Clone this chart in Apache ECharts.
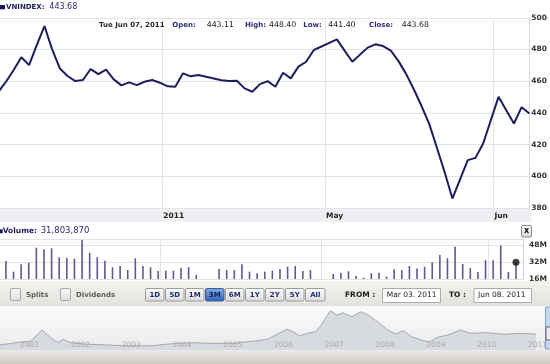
<!DOCTYPE html>
<html><head><meta charset="utf-8">
<script src="https://cdn.jsdelivr.net/npm/echarts@6/dist/echarts.min.js"></script>
<style>html,body{margin:0;padding:0;background:#fff}#c{width:550px;height:364px}</style>
</head><body><div id="c"></div>
<script>
// trading days shown (Mar 03 2011 .. Jun 08 2011)
const dates = [
 'Mar 03','Mar 04','Mar 07','Mar 08','Mar 09','Mar 10','Mar 11','Mar 14','Mar 15','Mar 16','Mar 17','Mar 18','Mar 21','Mar 22','Mar 23','Mar 24','Mar 25','Mar 28','Mar 29','Mar 30','Mar 31',
 'Apr 01','Apr 04','Apr 05','Apr 06','Apr 07','Apr 08','Apr 11','Apr 12','Apr 13','Apr 14','Apr 15','Apr 18','Apr 19','Apr 20','Apr 21','Apr 22','Apr 25','Apr 26','Apr 27','Apr 28','Apr 29',
 'May 02','May 03','May 04','May 05','May 06','May 09','May 10','May 11','May 12','May 13','May 16','May 17','May 18','May 19','May 20','May 23','May 24','May 25','May 26','May 27','May 30','May 31',
 'Jun 01','Jun 02','Jun 03','Jun 06','Jun 07','Jun 08'
];
// VNINDEX close
const closeValues = [
 453.2,459.7,467.1,475.1,470.2,482.8,494.8,480.1,468.1,463.3,460.1,460.8,467.7,464.5,467.3,461.2,457.4,459.3,457.6,459.7,460.8,
 459.1,456.8,456.5,465.0,463.1,463.9,462.8,461.8,460.6,460.1,460.3,
 455.5,453.4,458.2,460.1,456.5,465.4,461.8,469.2,472.3,479.7,
 null,null,486.4,479.3,472.3,476.8,481.2,483.3,482.2,479.3,
 472.7,464.5,454.8,444.4,433.0,417.9,402.7,386.1,398.2,410.3,
 411.7,420.8,435.5,450.2,441.8,433.4,443.68,439.7
];
// volume, millions
const volumeM = [
 null,
 32.9,22.9,29.8,31.4,45.5,44.0,44.9,36.4,36.0,35.1,
 52.7,40.8,36.4,33.2,27.0,28.2,24.5,35.5,28.2,27.0,
 23.5,23.8,23.8,26.4,27.0,19.8,null,null,25.4,24.5,
 24.5,29.8,22.9,21.4,22.9,23.8,25.4,27.6,28.2,23.5,
 24.5,null,null,20.7,21.9,23.2,18.8,17.2,21.4,21.9,
 18.2,25.1,24.5,28.2,26.0,27.6,31.7,38.6,35.5,46.4,
 30.1,26.2,22.7,33.7,33.7,47.5,22.7,31.80387,null
];
const hoverDate = 'Jun 07';
// x-axis tick positions (in trading-day index units) and labels
const monthTicks = [21.3, 42.45, 64.34];
const monthLabels = ['2011', 'May', 'Jun'];
const priceTicks = [380, 400, 420, 440, 460, 480, 500];
const volumeTicks = [16, 32, 48];
// navigator (long-term history)
const navT = [2000.60,2000.99,2001.21,2001.43,2001.66,2001.75,2001.85,2001.98,2002.26,2002.71,2003.15,2003.61,2003.91,2004.43,2004.76,2005.20,2005.64,2005.87,2006.25,2006.38,2006.50,2006.66,2006.82,2006.92,2007.11,2007.24,2007.36,2007.53,2007.72,2007.88,2008.07,2008.22,2008.39,2008.55,2008.71,2008.90,2009.06,2009.22,2009.42,2009.67,2009.86,2010.18,2010.56,2010.82,2011.11,2011.30];
const navV = [149,230,260,595,298,220,318,217,179,149,119,128,179,217,199,199,268,318,616,540,417,497,545,720,1170,1042,1110,991,1140,1012,813,616,476,574,396,298,238,378,446,595,497,515,467,497,480,440];
const navYears = [2001,2002,2003,2004,2005,2006,2007,2008,2009,2010,2011];

const F = '"DejaVu Sans"';
const chart = echarts.init(document.getElementById('c'), null, {renderer: 'canvas'});
const hoverIdx = dates.indexOf(hoverDate);
const LG = (a, b) => new echarts.graphic.LinearGradient(0, 0, 0, 1, [{offset: 0, color: a}, {offset: 1, color: b}]);
function T(x, y, text, size, weight, color, align) {
  return {type: 'text', x: x, y: y, silent: true, z: 20,
    style: {text: text, font: weight + ' ' + size + 'px ' + F, fill: color, textVerticalAlign: 'middle', textAlign: align || 'left'}};
}
function R(x, y, w, h, fill, stroke, r, z) {
  return {type: 'rect', silent: true, z: z === undefined ? 10 : z, shape: {x: x, y: y, width: w, height: h, r: r || 0},
    style: {fill: fill, stroke: stroke || null, lineWidth: 1}};
}
const NAVY = '#2d2d7d';
const g = [];
// header
g.push(R(0, 5, 5, 4.3, '#1b1b5c', null, 0));
g.push(T(6, 7.3, 'VNINDEX:', 7, 'bold', '#1b1b5c'));
g.push(T(49.3, 7.3, '443.68', 8, 'normal', '#2a2a6a'));
// tooltip-like line
g.push(T(99, 25, 'Tue Jun 07, 2011', 7, 'bold', '#2b2b22'));
g.push(T(172.3, 25, 'Open:', 7, 'bold', NAVY));
g.push(T(206.7, 25, '443.11', 7.8, 'normal', '#1a1a1a'));
g.push(T(245, 25, 'High:', 7, 'bold', NAVY));
g.push(T(269, 25, '448.40', 7.8, 'normal', '#1a1a1a'));
g.push(T(303.3, 25, 'Low:', 7, 'bold', NAVY));
g.push(T(328.3, 25, '441.40', 7.8, 'normal', '#1a1a1a'));
g.push(T(369, 25, 'Close:', 7, 'bold', NAVY));
g.push(T(401.7, 25, '443.68', 7.8, 'normal', '#1a1a1a'));
// x-axis band
g.push(R(0, 209.3, 531, 12.4, '#eceef1', null, 0, -5));
// volume header
g.push(R(-2, 229.3, 4.7, 4, '#1b1b5c', null, 0));
g.push(T(2.7, 230.7, 'Volume:', 7.5, 'bold', '#1b1b5c'));
g.push(T(40.7, 230.7, '31,803,870', 8.5, 'normal', '#2a2a6a'));
// close button
g.push(R(521.5, 225.5, 10, 11.5, LG('#ffffff', '#d6d6d6'), '#8a8a8a', 1.5));
g.push(T(526.5, 231, 'x', 8, 'bold', '#111', 'center'));
// controls band
g.push(R(0, 281, 550, 25, LG('#f3f2ef', '#e3e2de'), null, 0, -5));
g.push(R(10.5, 288.5, 10, 12, LG('#fbfbfb', '#dedede'), '#a9a9a9', 1.5));
g.push(T(26, 294.7, 'Splits', 7, 'bold', '#5a5a5a'));
g.push(R(60.5, 288.5, 10, 12, LG('#fbfbfb', '#dedede'), '#a9a9a9', 1.5));
g.push(T(76, 294.7, 'Dividends', 7, 'bold', '#5a5a5a'));
const btns = ['1D', '5D', '1M', '3M', '6M', '1Y', '2Y', '5Y', 'All'];
btns.forEach((b, i) => {
  const x = 145.5 + 20 * i, w = b === 'All' ? 19.5 : 18.5;
  const sel = b === '3M';
  g.push(R(x, 288.5, w, 12.5, sel ? LG('#86aee8', '#2f5eb3') : LG('#ffffff', '#d9d9d9'), sel ? '#3b5d99' : '#9c9c9c', 1.5));
  g.push(T(x + w / 2, 294.9, b, 7, 'bold', sel ? '#0f1f55' : '#1c2c6c', 'center'));
});
g.push(T(345, 295, 'FROM :', 7.5, 'bold', '#1a1a1a'));
g.push(R(382.5, 288.5, 58, 14, '#ffffff', '#ababab', 0));
g.push(T(386.7, 295.5, 'Mar 03. 2011', 7.5, 'normal', '#222'));
g.push(T(449, 295, 'TO :', 7.5, 'bold', '#1a1a1a'));
g.push(R(474, 288.5, 57.5, 14, '#ffffff', '#ababab', 0));
g.push(T(478, 295.5, 'Jun 08. 2011', 7.5, 'normal', '#222'));
// navigator background and scrollbar
g.push(R(0, 306, 550, 45, LG('#fbfbfb', '#eaeaea'), null, 0, -5));
g.push(R(0, 351, 550, 13, LG('#e9e7e2', '#cdcac3'), null, 0, 10));
g.push(R(545.5, 307, 5, 42, '#c3d7ef', '#86a3cc', 0, 10));
g.push(R(546, 327, 4.5, 13, '#ececec', '#666', 0, 11));

const axisLabelFmt = v => {
  for (let i = 0; i < monthTicks.length; i++) if (Math.abs(monthTicks[i] - v) < 1e-6) return monthLabels[i];
  return '';
};
const xMin = 0.223, xMax = 69;
const option = {
  animation: false,
  textStyle: {fontFamily: F},
  grid: [
    {left: 0, top: 17.8, width: 531, height: 190.4},
    {left: 0, top: 239.5, width: 531, height: 39.5},
    {left: 0, top: 306, width: 550, height: 44}
  ],
  xAxis: [
    {gridIndex: 0, type: 'value', min: xMin, max: xMax,
      axisLine: {show: false}, axisTick: {show: false, customValues: monthTicks},
      splitLine: {show: true, customValues: monthTicks, lineStyle: {color: '#e3e3e3', width: 1}},
      axisLabel: {customValues: monthTicks, formatter: axisLabelFmt, align: 'left', margin: 4, padding: [0, 0, 0, 1],
        color: '#222', fontWeight: 'bold', fontSize: 7.5, fontFamily: F}},
    {gridIndex: 1, type: 'value', min: xMin, max: xMax,
      axisLine: {show: false}, axisTick: {show: false, customValues: monthTicks},
      splitLine: {show: true, customValues: monthTicks, lineStyle: {color: '#e3e3e3', width: 1}},
      axisLabel: {show: false, customValues: monthTicks}},
    {gridIndex: 2, type: 'value', min: 2000.604, max: 2011.128, z: 10,
      axisLine: {show: false}, axisTick: {show: false, customValues: navYears},
      splitLine: {show: false},
      axisLabel: {customValues: navYears, inside: true, align: 'left', margin: 1, color: '#a9a9a9', fontSize: 7.5,
        fontFamily: F, formatter: v => String(Math.round(v))}}
  ],
  yAxis: [
    {gridIndex: 0, type: 'value', position: 'right', min: priceTicks[0], max: priceTicks[priceTicks.length - 1], interval: 20,
      axisLine: {show: true, lineStyle: {color: '#d6d6d6'}}, axisTick: {show: false},
      splitLine: {lineStyle: {color: '#e3e3e3'}},
      axisLabel: {margin: 2, color: '#333', fontWeight: 'bold', fontSize: 7.5, fontFamily: F}},
    {gridIndex: 1, type: 'value', position: 'right', min: volumeTicks[0], max: 53.18, interval: 16,
      axisLine: {show: true, lineStyle: {color: '#d6d6d6'}}, axisTick: {show: false},
      splitLine: {lineStyle: {color: '#e3e3e3'}},
      axisLabel: {margin: 5.5, color: '#333', fontWeight: 'bold', fontSize: 7.5, fontFamily: F, showMaxLabel: false,
        formatter: v => v + 'M'}},
    {gridIndex: 2, type: 'value', min: 0, max: 1310, show: false}
  ],
  graphic: {elements: g},
  series: [
    {type: 'line', xAxisIndex: 0, yAxisIndex: 0, data: closeValues.map((v, i) => [i, v]),
      symbol: 'none', connectNulls: true, clip: true, lineStyle: {color: '#1e1e5e', width: 2}, z: 3},
    {type: 'bar', xAxisIndex: 1, yAxisIndex: 1, data: volumeM.map((v, i) => [i, v]),
      barWidth: 1.6, clip: true, itemStyle: {color: '#5a5a90'}},
    {type: 'scatter', xAxisIndex: 1, yAxisIndex: 1, data: [[hoverIdx, volumeM[hoverIdx]]],
      symbolSize: 7, itemStyle: {color: '#111'}, z: 5, clip: false},
    {type: 'line', xAxisIndex: 2, yAxisIndex: 2, data: navT.map((t, i) => [t, navV[i]]), z: 1,
      symbol: 'none', clip: true, lineStyle: {color: '#a3a7ad', width: 1}, areaStyle: {color: '#d7dbe0', opacity: 1}}
  ]
};
chart.setOption(option);
</script>
</body></html>
